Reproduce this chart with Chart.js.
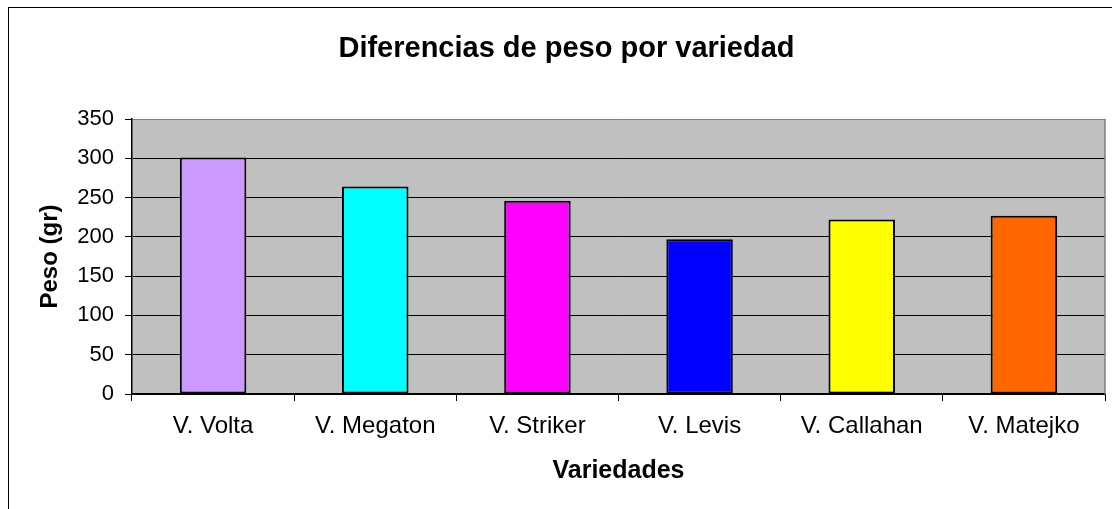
<!DOCTYPE html>
<html>
<head>
<meta charset="utf-8">
<script src="https://cdn.jsdelivr.net/npm/chart.js@4.4.1/dist/chart.umd.min.js"></script>
<style>
html,body{margin:0;padding:0;background:#fff;}
#wrap{width:1112px;height:509px;position:relative;}
</style>
</head>
<body>
<div id="wrap"><canvas id="c" width="1112" height="509"></canvas></div>
<script>
const categories = ["V. Volta", "V. Megaton", "V. Striker", "V. Levis", "V. Callahan", "V. Matejko"];
const pesoValues = [301, 264, 246, 197, 222, 227];
const barColors = ["#CC99FF", "#00FFFF", "#FF00FF", "#0000FF", "#FFFF00", "#FF6600"];
const yTicks = [0, 50, 100, 150, 200, 250, 300, 350];

const FONT = "'Liberation Sans', Arial, sans-serif";

const chromePlugin = {
  id: 'chrome',
  beforeDraw(chart) {
    const ctx = chart.ctx, a = chart.chartArea;
    ctx.save();
    ctx.fillStyle = '#fff';
    ctx.fillRect(0, 0, chart.width, chart.height);
    ctx.strokeStyle = '#000';
    ctx.lineWidth = 1;
    ctx.strokeRect(8.5, 7.5, 3000, 3000);
    ctx.fillStyle = '#C0C0C0';
    ctx.fillRect(a.left, a.top, a.right - a.left, a.bottom - a.top);
    ctx.restore();
  },
  beforeDatasetsDraw(chart) {
    const ctx = chart.ctx, a = chart.chartArea;
    ctx.save();
    ctx.strokeStyle = '#808080';
    ctx.lineWidth = 1.5;
    ctx.beginPath();
    ctx.moveTo(a.right, a.top);
    ctx.lineTo(a.right, a.bottom);
    ctx.stroke();
    ctx.restore();
  }
};

new Chart(document.getElementById('c'), {
  type: 'bar',
  data: {
    labels: categories,
    datasets: [{
      data: pesoValues,
      backgroundColor: barColors,
      borderColor: '#000',
      borderWidth: 2,
      borderSkipped: false,
      barPercentage: 0.41,
      categoryPercentage: 1.0
    }]
  },
  options: {
    responsive: false,
    animation: false,
    devicePixelRatio: 1,
    layout: { padding: { left: 28, right: 7, top: 0, bottom: 0 } },
    plugins: {
      legend: { display: false },
      tooltip: { enabled: false },
      title: {
        display: true,
        text: 'Diferencias de peso por variedad',
        color: '#000',
        font: { family: FONT, size: 29, weight: 'bold', lineHeight: 1.2 },
        padding: { top: 32, bottom: 52.2 }
      }
    },
    scales: {
      x: {
        offset: true,
        afterFit(s) { s.height = 115; },
        border: { display: true, color: '#000', width: 1.5 },
        grid: { offset: true, drawOnChartArea: false, drawTicks: true, tickLength: 7, color: '#000', tickColor: '#000', lineWidth: 1 },
        ticks: { color: '#000', padding: 11, maxRotation: 0, autoSkip: false, font: { family: FONT, size: 24 } },
        title: { display: true, text: 'Variedades', color: '#000', font: { family: FONT, size: 25, weight: 'bold', lineHeight: 1.2 }, padding: { top: 0, bottom: 23 } }
      },
      y: {
        min: 0,
        max: 350,
        afterFit(s) { s.width = 104; },
        afterBuildTicks(s) { s.ticks = yTicks.map(v => ({ value: v })); },
        border: { display: true, color: '#000', width: 1.5 },
        grid: {
          drawTicks: true,
          tickLength: 7,
          tickColor: '#000',
          lineWidth: 1,
          color: (c) => (c.tick && c.tick.value === 350) ? '#808080' : '#000'
        },
        ticks: { color: '#000', padding: 11, font: { family: FONT, size: 22 } },
        title: { display: true, text: 'Peso (gr)', color: '#000', font: { family: FONT, size: 24, weight: 'bold', lineHeight: 1.2 }, padding: { top: 7.6, bottom: 0 } }
      }
    }
  },
  plugins: [chromePlugin]
});
</script>
</body>
</html>
